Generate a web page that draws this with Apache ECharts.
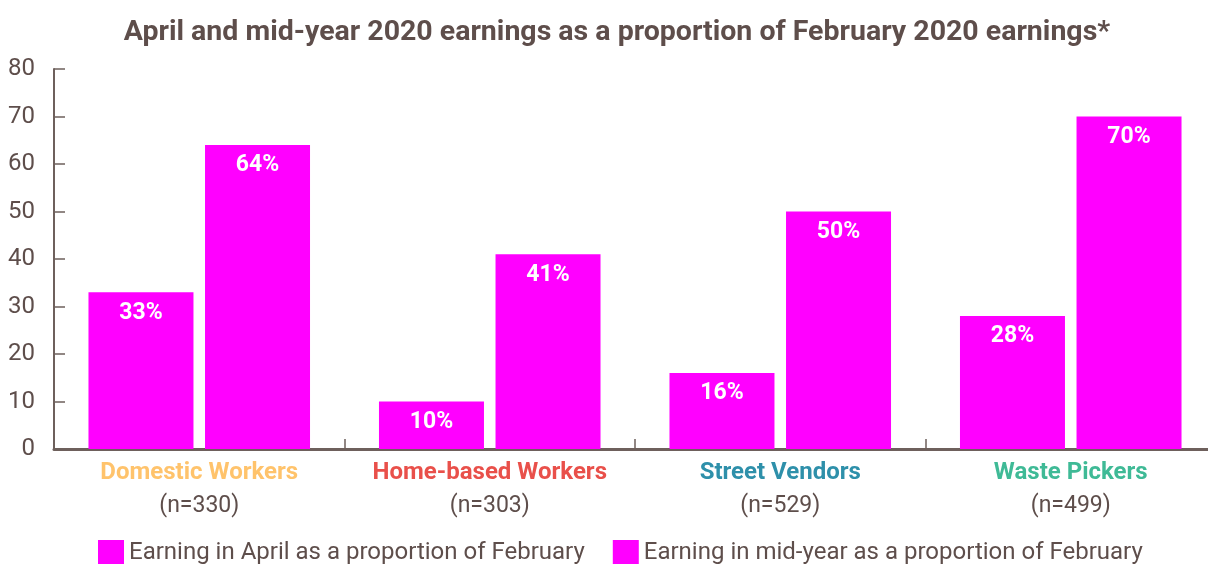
<!DOCTYPE html>
<html><head><meta charset="utf-8">
<script src="https://cdn.jsdelivr.net/npm/echarts@6/dist/echarts.min.js"></script>
<style>html,body{margin:0;padding:0;background:#fff}#c{width:1208px;height:564px}</style>
</head><body><div id="c"></div>
<script>
const categories = ["Domestic Workers", "Home-based Workers", "Street Vendors", "Waste Pickers"];
const sampleSizes = ["(n=330)", "(n=303)", "(n=529)", "(n=499)"];
const aprilValues = [33, 10, 16, 28];
const midYearValues = [64, 41, 50, 70];
const seriesNames = ["Earning in April as a proportion of February", "Earning in mid-year as a proportion of February"];
const yTicks = [0, 10, 20, 30, 40, 50, 60, 70, 80];

const catColors = ["#FFC36B", "#E9504A", "#2E90AA", "#3FBA96"];
const axisColor = "#6E605C";
const textColor = "#5E4E4B";
const rich = {};
catColors.forEach((c, i) => { rich["c" + i] = { color: c, fontWeight: "bold", fontSize: 24, fontFamily: "Roboto", lineHeight: 34 }; });
rich.n = { color: textColor, fontSize: 23, fontFamily: "Roboto", lineHeight: 32 };

const chart = echarts.init(document.getElementById("c"), null, { renderer: "canvas" });
const barLabel = { show: true, position: "insideTop", distance: 9, color: "#fff", fontWeight: "bold", fontSize: 23, fontFamily: "Roboto", formatter: p => p.value + "%" };
chart.setOption({
  animation: false,
  title: { text: "April and mid-year 2020 earnings as a proportion of February 2020 earnings*", left: 612, textAlign: "center", top: 13,
    textStyle: { color: textColor, fontWeight: "bold", fontSize: 28.5, fontFamily: "Roboto" } },
  grid: { left: 54, width: 1162, top: 69, bottom: 115, containLabel: false, outerBoundsMode: "none" },
  legend: { bottom: -7, left: 93, itemWidth: 26, itemHeight: 26, itemGap: 28, icon: "rect",
    textStyle: { color: textColor, fontSize: 24, fontFamily: "Roboto" }, data: seriesNames },
  xAxis: { type: "category", data: categories,
    axisLine: { lineStyle: { color: axisColor, width: 3 } },
    axisTick: { show: true, inside: true, length: 10, lineStyle: { color: axisColor, width: 1.5 } },
    axisLabel: { margin: 7, interval: 0, formatter: (v, i) => "{c" + i + "|" + v + "}\n{n|" + sampleSizes[i] + "}", rich: rich } },
  yAxis: { type: "value", min: yTicks[0], max: yTicks[yTicks.length - 1], interval: 10,
    splitLine: { show: false },
    axisLine: { show: true, lineStyle: { color: axisColor, width: 2 } },
    axisTick: { show: true, inside: true, length: 11, lineStyle: { color: axisColor, width: 1.5 } },
    axisLabel: { color: textColor, fontSize: 24, fontFamily: "Roboto", margin: 19 } },
  series: [
    { name: seriesNames[0], type: "bar", data: aprilValues, barWidth: 105, barGap: "11%", itemStyle: { color: "#FF00FF" }, label: barLabel },
    { name: seriesNames[1], type: "bar", data: midYearValues, barWidth: 105, itemStyle: { color: "#FF00FF" }, label: barLabel }
  ]
});
</script></body></html>
